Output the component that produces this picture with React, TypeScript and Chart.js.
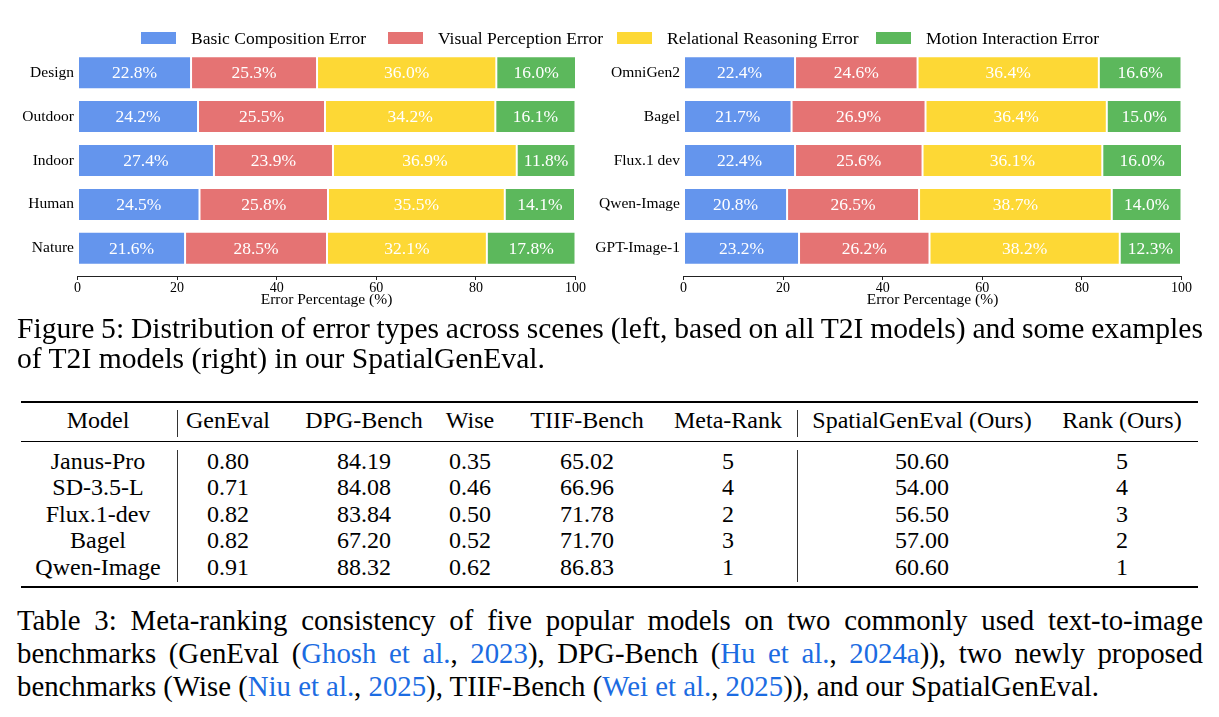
import React, { useEffect, useLayoutEffect, useRef } from 'react';
import { Chart, registerables } from 'chart.js';

Chart.register(...registerables);

const SERIF = '"Liberation Serif", "Times New Roman", Times, serif';

// ---------- chart data ----------
const errorTypes = [
  'Basic Composition Error',
  'Visual Perception Error',
  'Relational Reasoning Error',
  'Motion Interaction Error',
];
const errorColors = ['#6495ED', '#E57373', '#FDD835', '#5CB85C'];

const sceneLabels = ['Design', 'Outdoor', 'Indoor', 'Human', 'Nature'];
const sceneBasic = [22.8, 24.2, 27.4, 24.5, 21.6];
const sceneVisual = [25.3, 25.5, 23.9, 25.8, 28.5];
const sceneRelational = [36.0, 34.2, 36.9, 35.5, 32.1];
const sceneMotion = [16.0, 16.1, 11.8, 14.1, 17.8];

const modelLabels = ['OmniGen2', 'Bagel', 'Flux.1 dev', 'Qwen-Image', 'GPT-Image-1'];
const modelBasic = [22.4, 21.7, 22.4, 20.8, 23.2];
const modelVisual = [24.6, 26.9, 25.6, 26.5, 26.2];
const modelRelational = [36.4, 36.4, 36.1, 38.7, 38.2];
const modelMotion = [16.6, 15.0, 16.0, 14.0, 12.3];

const xTickValues = [0, 20, 40, 60, 80, 100];
const xAxisTitle = 'Error Percentage (%)';

// ---------- table data ----------
const tableHeaders = ['Model', 'GenEval', 'DPG-Bench', 'Wise', 'TIIF-Bench', 'Meta-Rank', 'SpatialGenEval (Ours)', 'Rank (Ours)'];
const tableModels = ['Janus-Pro', 'SD-3.5-L', 'Flux.1-dev', 'Bagel', 'Qwen-Image'];
const genEvalScores = ['0.80', '0.71', '0.82', '0.82', '0.91'];
const dpgScores = ['84.19', '84.08', '83.84', '67.20', '88.32'];
const wiseScores = ['0.35', '0.46', '0.50', '0.52', '0.62'];
const tiifScores = ['65.02', '66.96', '71.78', '71.70', '86.83'];
const metaRanks = ['5', '4', '2', '3', '1'];
const spatialScores = ['50.60', '54.00', '56.50', '57.00', '60.60'];
const oursRanks = ['5', '4', '3', '2', '1'];

const segmentLabelPlugin = {
  id: 'segmentLabels',
  afterDatasetsDraw(chart: any) {
    const { ctx } = chart;
    ctx.save();
    ctx.font = `17.5px ${SERIF}`;
    ctx.fillStyle = '#ffffff';
    ctx.textAlign = 'center';
    ctx.textBaseline = 'middle';
    chart.data.datasets.forEach((ds: any, di: number) => {
      const meta = chart.getDatasetMeta(di);
      meta.data.forEach((el: any, i: number) => {
        const p = el.getCenterPoint();
        const v = ds.data[i].x;
        ctx.fillText(`${v.toFixed(1)}%`, p.x, p.y + 1);
      });
    });
    ctx.restore();
  },
};

type ChartProps = {
  labels: string[];
  series: number[][];
  left: number;
  width: number;
  height: number;
  axisLeft: number;
  padRight: number;
};

function StackedBarChart({ labels, series, left, width, height, axisLeft, padRight }: ChartProps) {
  const ref = useRef<HTMLCanvasElement>(null);
  useEffect(() => {
    const datasets = series.map((vals, s) => ({
      label: errorTypes[s],
      data: vals.map((v, i) => ({ x: v, y: i })),
      backgroundColor: errorColors[s],
      borderColor: 'rgba(255,255,255,0.55)',
      borderWidth: 1,
      borderSkipped: false,
      categoryPercentage: 1,
      barPercentage: 0.75,
    }));
    const chart = new Chart(ref.current as HTMLCanvasElement, {
      type: 'bar',
      data: { datasets } as any,
      options: {
        indexAxis: 'y',
        animation: false,
        responsive: false,
        maintainAspectRatio: false,
        devicePixelRatio: 1,
        layout: { padding: { top: 45, right: padRight, left: 0, bottom: 0 } },
        plugins: { legend: { display: false }, tooltip: { enabled: false } },
        scales: {
          x: {
            type: 'linear',
            stacked: true,
            min: 0,
            max: 100,
            afterBuildTicks: (s: any) => {
              s.ticks = xTickValues.map((v) => ({ value: v }));
            },
            afterFit: (s: any) => {
              s.height = height - 276;
            },
            ticks: {
              font: { family: SERIF, size: 14 },
              color: '#000',
              padding: 0,
              maxRotation: 0,
              autoSkip: false,
            },
            grid: {
              display: true,
              drawOnChartArea: false,
              drawTicks: true,
              tickLength: 4,
              color: '#222',
              lineWidth: 1,
            },
            border: { display: true, color: '#222', width: 1 },
            title: {
              display: true,
              text: xAxisTitle,
              font: { family: SERIF, size: 15.5, lineHeight: 1.2 },
              color: '#000',
              padding: { top: 0, bottom: 10.5 },
            },
          },
          y: {
            type: 'linear',
            stacked: true,
            reverse: true,
            offset: false,
            bounds: 'data',
            grace: 0,
            min: -0.63,
            max: 4.63,
            afterBuildTicks: (s: any) => {
              s.ticks = labels.map((_, i) => ({ value: i }));
            },
            afterFit: (s: any) => {
              s.width = axisLeft;
            },
            ticks: {
              callback: (v: any) => labels[v as number],
              font: { family: SERIF, size: 15.5 },
              color: '#000',
              padding: 3.5,
              autoSkip: false,
              includeBounds: false,
            },
            grid: { display: false, drawTicks: false, offset: false },
            border: { display: false },
          },
        },
      } as any,
      plugins: [segmentLabelPlugin],
    });
    return () => chart.destroy();
  }, []);
  return (
    <canvas
      ref={ref}
      width={width}
      height={height}
      style={{ position: 'absolute', left, top: 0, width, height }}
    />
  );
}

function Txt({ x, y, size, children, center = false, color = '#000' }: any) {
  const lh = size * 1.3;
  return (
    <div
      style={{
        position: 'absolute',
        left: x,
        top: y - lh / 2,
        fontSize: size,
        lineHeight: `${lh}px`,
        whiteSpace: 'nowrap',
        transform: center ? 'translateX(-50%)' : undefined,
        color,
      }}
    >
      {children}
    </div>
  );
}

const CAPTION_LEFT = 17;
const CAPTION_WIDTH = 1186;

function CaptionLine({ y, size, justify, children }: any) {
  const lh = size * 1.3;
  const ref = useRef<HTMLSpanElement>(null);
  useLayoutEffect(() => {
    const el = ref.current;
    if (!el || !justify) return;
    el.style.wordSpacing = '0px';
    const w = el.getBoundingClientRect().width;
    const spaces = ((el.textContent || '').match(/ /g) || []).length;
    if (spaces > 0) el.style.wordSpacing = `${(CAPTION_WIDTH - w) / spaces}px`;
  }, [justify]);
  return (
    <div
      style={{
        position: 'absolute',
        left: CAPTION_LEFT,
        top: y - lh / 2,
        fontSize: size,
        lineHeight: `${lh}px`,
        whiteSpace: 'nowrap',
      }}
    >
      <span ref={ref}>{children}</span>
    </div>
  );
}

const LINK = 'rgb(28,108,226)';
const L = ({ children }: any) => <span style={{ color: LINK }}>{children}</span>;

export default function App() {
  const legendX = [141, 388, 617, 876];
  const colX = [98, 228, 364, 470, 587, 728, 922, 1122];
  const rowY = [461.5, 488, 514.5, 541, 567.5];
  const columns = [tableModels, genEvalScores, dpgScores, wiseScores, tiifScores, metaRanks, spatialScores, oursRanks];
  const figCap = 29.6;
  const tabCap = 28.8;
  return (
    <div
      style={{
        position: 'absolute',
        left: 0,
        top: 0,
        width: 1219,
        height: 717,
        background: '#fff',
        overflow: 'hidden',
        fontFamily: SERIF,
        color: '#000',
      }}
    >
      <StackedBarChart
        labels={sceneLabels}
        series={[sceneBasic, sceneVisual, sceneRelational, sceneMotion]}
        left={0}
        width={610}
        height={320}
        axisLeft={77.5}
        padRight={34.5}
      />
      <StackedBarChart
        labels={modelLabels}
        series={[modelBasic, modelVisual, modelRelational, modelMotion]}
        left={588}
        width={631}
        height={320}
        axisLeft={95.5}
        padRight={37.5}
      />

      {errorTypes.map((t, i) => (
        <React.Fragment key={t}>
          <div
            style={{
              position: 'absolute',
              left: legendX[i],
              top: 32,
              width: 35,
              height: 12,
              background: errorColors[i],
            }}
          />
          <Txt x={legendX[i] + 50} y={38} size={17.5}>
            {t}
          </Txt>
        </React.Fragment>
      ))}

      <CaptionLine y={328} size={figCap} justify>
        Figure 5: Distribution of error types across scenes (left, based on all T2I models) and some examples
      </CaptionLine>
      <CaptionLine y={358} size={figCap}>
        of T2I models (right) in our SpatialGenEval.
      </CaptionLine>

      {/* table rules */}
      <div style={{ position: 'absolute', left: 21, width: 1177, top: 401, height: 2, background: '#000' }} />
      <div style={{ position: 'absolute', left: 21, width: 1177, top: 441, height: 1, background: '#000' }} />
      <div style={{ position: 'absolute', left: 21, width: 1177, top: 586, height: 2, background: '#000' }} />
      {[177, 797].map((x) => (
        <React.Fragment key={x}>
          <div style={{ position: 'absolute', left: x, width: 1, top: 410, height: 27, background: '#333' }} />
          <div style={{ position: 'absolute', left: x, width: 1, top: 450, height: 132, background: '#333' }} />
        </React.Fragment>
      ))}

      {tableHeaders.map((h, c) => (
        <Txt key={h} x={colX[c]} y={421} size={24} center>
          {h}
        </Txt>
      ))}
      {columns.map((col, c) =>
        col.map((v, r) => (
          <Txt key={`${c}-${r}`} x={colX[c]} y={rowY[r]} size={24} center>
            {v}
          </Txt>
        ))
      )}

      <CaptionLine y={621} size={tabCap} justify>
        Table 3: Meta-ranking consistency of five popular models on two commonly used text-to-image
      </CaptionLine>
      <CaptionLine y={654} size={tabCap} justify>
        benchmarks (GenEval (<L>Ghosh et al.</L>, <L>2023</L>), DPG-Bench (<L>Hu et al.</L>, <L>2024a</L>)), two newly proposed
      </CaptionLine>
      <CaptionLine y={687} size={tabCap}>
        benchmarks (Wise (<L>Niu et al.</L>, <L>2025</L>), TIIF-Bench (<L>Wei et al.</L>, <L>2025</L>)), and our SpatialGenEval.
      </CaptionLine>
    </div>
  );
}
